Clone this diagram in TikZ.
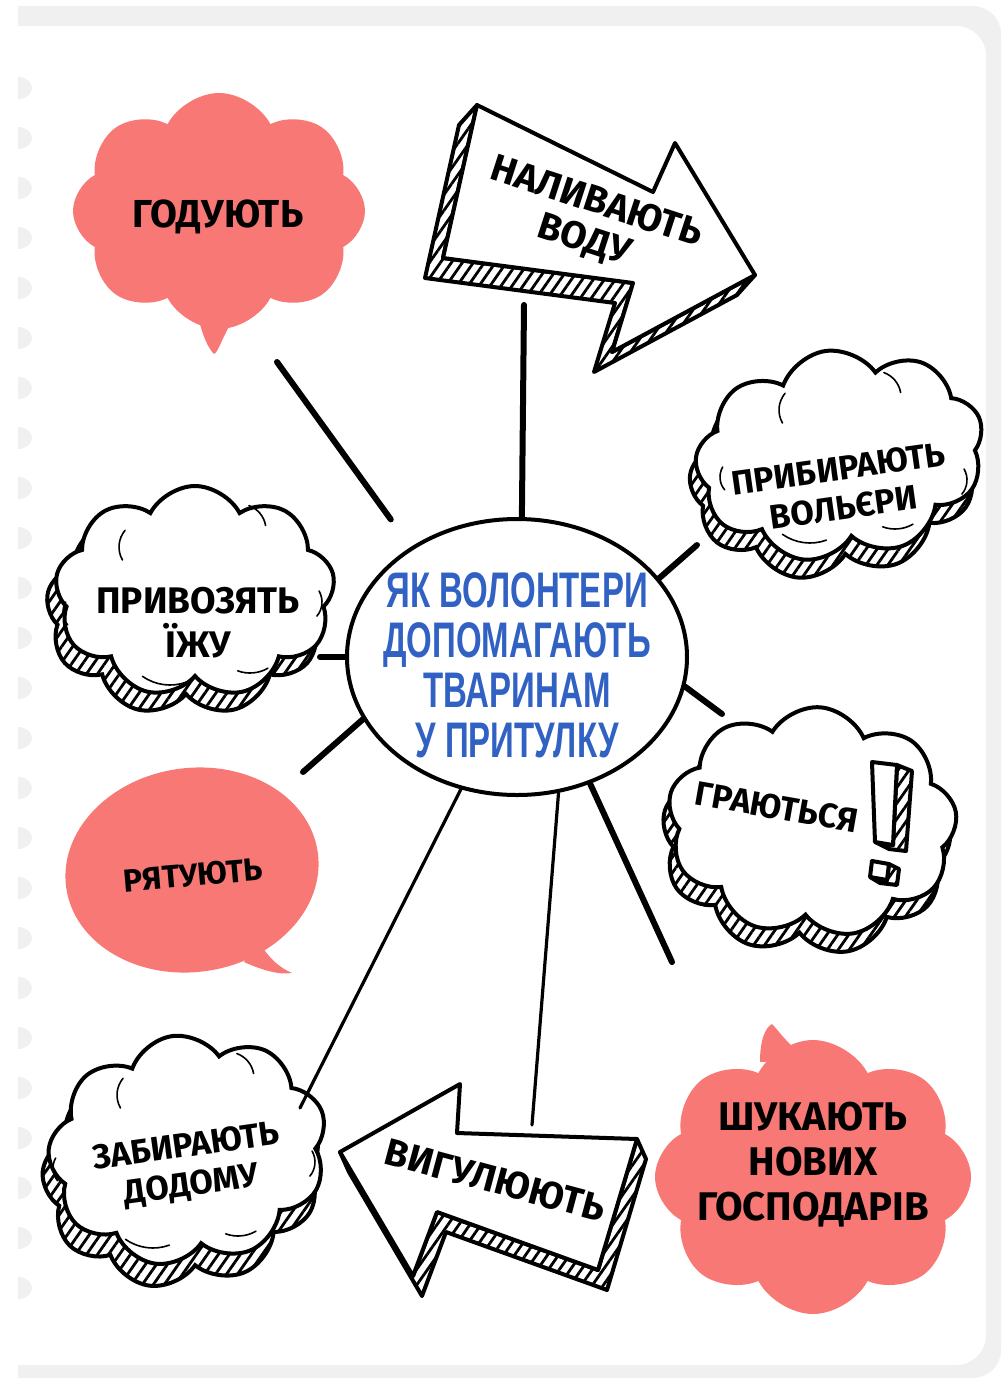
\documentclass[tikz,border=0pt]{standalone}
\usepackage{fontspec}
\setmainfont{Fira Sans}
\newfontfamily\titlefont[FakeStretch=0.66]{Liberation Sans}
\usetikzlibrary{shapes.symbols, shapes.geometric, patterns.meta, positioning}

\definecolor{salmon}{HTML}{F77875}
\definecolor{titleblue}{HTML}{3162C3}
\definecolor{sheet}{HTML}{F0F0F0}

\tikzset{
  puff/.style={cloud, cloud puffs=9, cloud puff arc=125, cloud ignores aspect, inner sep=0pt},
  hatch/.style={pattern={Lines[angle=55, distance=4.5pt, line width=1.4pt]}},
  inkcloud/.style={puff, draw, line width=2pt, fill=white},
  shadecloud/.style={puff, draw, line width=2pt, preaction={fill=white}, hatch},
  redcloud/.style={puff, fill=salmon},
  word/.style={font=\bfseries\fontsize{17}{19.5}\selectfont, align=center, inner sep=0pt},
  link/.style={line width=3pt, line cap=round},
  thinlink/.style={line width=1.6pt, line cap=round},
  ink/.style={line width=2pt, line join=round},
  gleam/.style={line width=0.8pt, line cap=round},
}

\begin{document}
\begin{tikzpicture}[x=0.5pt, y=-0.5pt]
  \useasboundingbox (0,0) rectangle (1003,1378);
  % notebook sheet
  \fill[sheet] (18,6) [rounded corners=14pt] -- (1001,6) -- (1001,1378) [sharp corners] -- (18,1378) -- cycle;
  \fill[white] (18,26) [rounded corners=15pt] -- (986,26) -- (986,1365) [sharp corners] -- (18,1365) -- cycle;
  \foreach \k in {0,...,24}
    \fill[sheet] (18,{77+50*\k}) arc[start angle=-90, end angle=90, x radius=14, y radius=11] -- cycle;

  % centre
  \node[draw, ellipse, line width=2pt, minimum width=170pt, minimum height=138pt, inner sep=0pt] (hub) at (517,657) {};
  \node[font=\titlefont\bfseries\fontsize{25}{25}\selectfont, text=titleblue, align=center, inner sep=0pt] (title) at (517,665)
    {ЯК ВОЛОНТЕРИ\\ДОПОМАГАЮТЬ\\ТВАРИНАМ\\У ПРИТУЛКУ};

  % red bubbles
  \node[redcloud, cloud puffs=8, minimum width=146pt, minimum height=118pt] (feed) at (219,211) {};
  \fill[salmon] (197,312) .. controls (202,335) and (208,348) .. (214,354) .. controls (219,352) and (222,335) .. (238,312) -- cycle;
  \node[word, font=\bfseries\fontsize{19.5}{22}\selectfont] (feedlbl) at (218,217) {ГОДУЮТЬ};

  \node[ellipse, fill=salmon, minimum width=127pt, minimum height=102pt, rotate=8] (rescue) at (192,870) {};
  \fill[salmon] (258,940) .. controls (268,958) and (280,968) .. (292,973) .. controls (278,975) and (262,970) .. (244,962) -- cycle;
  \node[word, font=\bfseries\fontsize{16}{18}\selectfont, rotate=5] (rescuelbl) at (193,875) {РЯТУЮТЬ};

  \node[redcloud, cloud puffs=8, minimum width=158pt, minimum height=137pt] (owners) at (813,1177) {};
  \fill[salmon] (760,1062) .. controls (760,1040) and (765,1028) .. (772,1024) .. controls (778,1030) and (788,1045) .. (808,1060) -- cycle;
  \node[word, font=\bfseries\fontsize{20}{22.5}\selectfont] (ownerslbl) at (813,1165) {ШУКАЮТЬ\\НОВИХ\\ГОСПОДАРІВ};

  % ink clouds
  \node[shadecloud, minimum width=145pt, minimum height=105pt, rotate=8] (cleanshade) at (834,473) {};
  \node[inkcloud, minimum width=145pt, minimum height=105pt, rotate=8] (clean) at (840,455) {};
  \node[word, rotate=8] (cleanlbl) at (841,488) {ПРИБИРАЮТЬ\\ВОЛЬЄРИ};
  \foreach \dx/\dy/\r/\a/\b in {-35/-45/13/140/210, 35/-58/13/10/70, -100/22/10/150/220, 105/25/11/-40/30, -30/40/24/235/290, 55/38/18/250/300}
    \draw[gleam] ([shift={(\dx,\dy)}]clean.center) ++(\a:\r pt) arc[start angle=\a, end angle=\b, radius=\r pt];

  \node[shadecloud, minimum width=140pt, minimum height=106pt] (foodshade) at (186,610) {};
  \node[inkcloud, minimum width=140pt, minimum height=106pt] (food) at (195,592) {};
  \node[word, font=\bfseries\fontsize{18.5}{22}\selectfont] (foodlbl) at (198,623) {ПРИВОЗЯТЬ\\ЇЖУ};
  \foreach \dx/\dy/\r/\a/\b in {-50/-45/13/140/210, 45/-62/13/10/70, -112/20/10/150/220, 105/10/11/-40/30, -25/45/24/235/290, 55/45/18/250/300}
    \draw[gleam] ([shift={(\dx,\dy)}]food.center) ++(\a:\r pt) arc[start angle=\a, end angle=\b, radius=\r pt];

  \node[shadecloud, minimum width=145pt, minimum height=115pt, rotate=-4] (playshade) at (806,840) {};
  \node[inkcloud, minimum width=145pt, minimum height=115pt, rotate=-4] (play) at (812,822) {};
  \node[word, rotate=-10] (playlbl) at (777,807) {ГРАЮТЬСЯ};
  \draw[ink, hatch, preaction={fill=white}] (897,765) -- (912,771) -- (906,851) -- (889,849) -- (875,842) -- (893,845) -- cycle;
  \draw[ink, fill=white] (872,762) -- (897,765) -- (893,845) -- (875,842) -- cycle;
  \draw[ink, hatch, preaction={fill=white}] (889,864) -- (899,869) -- (897,885) -- (880,883) -- (870,877) -- (887,880) -- cycle;
  \draw[ink, fill=white] (872,861) -- (889,864) -- (887,880) -- (870,877) -- cycle;

  \node[shadecloud, minimum width=140pt, minimum height=115pt, rotate=8] (homeshade) at (182,1172) {};
  \node[inkcloud, minimum width=140pt, minimum height=115pt, rotate=8] (home) at (188,1150) {};
  \node[word, rotate=8] (homelbl) at (189,1167) {ЗАБИРАЮТЬ\\ДОДОМУ};
  \foreach \dx/\dy/\r/\a/\b in {-45/-55/13/140/210, 40/-72/13/10/70, -115/18/10/150/220, 105/12/11/-40/30, -35/50/24/235/290, 50/50/18/250/300}
    \draw[gleam] ([shift={(\dx,\dy)}]home.center) ++(\a:\r pt) arc[start angle=\a, end angle=\b, radius=\r pt];

  % arrows
  \draw[ink, hatch, preaction={fill=white}] (477,105) -- (443,258) -- (633,283) -- (612,352) -- (755,275)
    -- (737,295) -- (594,372) -- (615,303) -- (425,278) -- (459,125) -- cycle;
  \draw[ink, fill=white] (477,105) -- (653,192) -- (675,143) -- (755,275) -- (612,352) -- (633,283) -- (443,258) -- cycle;
  \node[word, font=\bfseries\fontsize{19}{20}\selectfont, rotate=-18] (water) at (590,222) {НАЛИВАЮТЬ\\ВОДУ};

  \draw[ink, hatch, preaction={fill=white}] (637,1139) -- (598,1270) -- (437,1212) -- (413,1276) -- (340,1152)
    -- (349,1172) -- (422,1296) -- (446,1232) -- (607,1290) -- (646,1159) -- cycle;
  \draw[ink, fill=white] (340,1152) -- (460,1084) -- (457,1133) -- (637,1139) -- (598,1270) -- (437,1212) -- (413,1276) -- cycle;
  \node[word, font=\bfseries\fontsize{19}{20}\selectfont, rotate=-15] (walk) at (495,1180) {ВИГУЛЮЮТЬ};

  % connectors
  \coordinate (feedend) at (277,362);
  \coordinate (waterend) at (524,305);
  \coordinate (cleanend) at (697,545);
  \coordinate (playend) at (722,714);
  \coordinate (playtip) at (672,962);
  \coordinate (walkend) at (532,1125);
  \coordinate (homeend) at (300,1108);
  \coordinate (rescueend) at (303,772);
  \coordinate (foodend) at (320,657);
  \draw[link, shorten <=17pt] (hub.134) -- (feedend);
  \draw[link] (hub.88) -- (waterend);
  \draw[link] (hub.29) -- (cleanend);
  \draw[link] (hub.-10) -- (playend);
  \draw[link] (hub.-60) -- (playtip);
  \draw[thinlink] (hub.-73) -- (walkend);
  \draw[thinlink] (hub.-113) -- (homeend);
  \draw[link] (hub.202) -- (rescueend);
  \draw[link] (hub.180) -- (foodend);
\end{tikzpicture}
\end{document}
